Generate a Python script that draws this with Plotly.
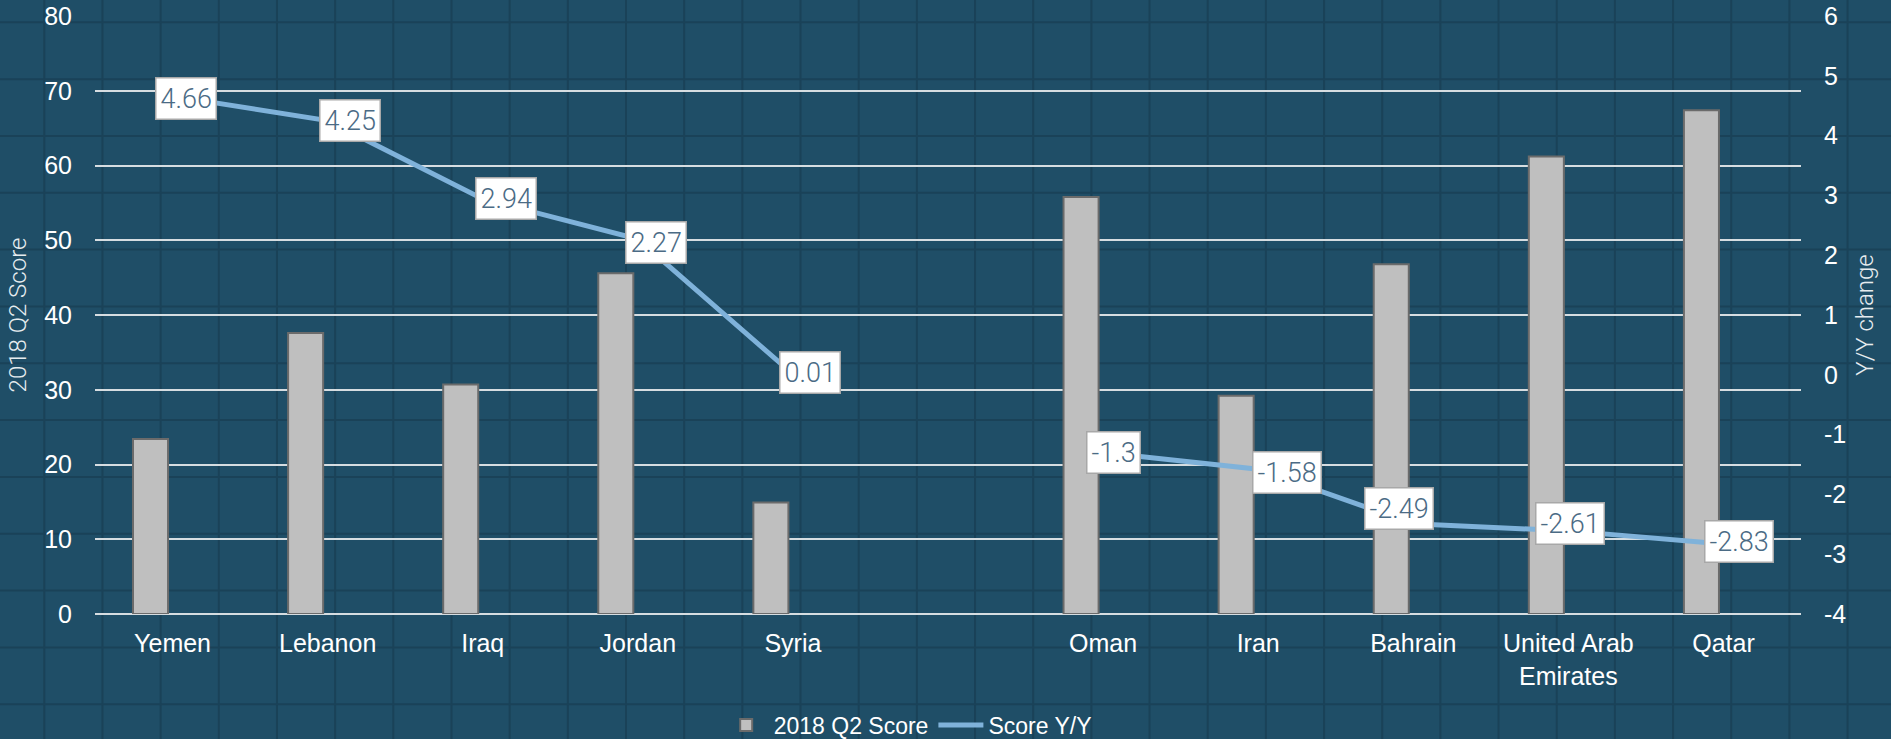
import plotly.graph_objects as go

categories = ["Yemen", "Lebanon", "Iraq", "Jordan", "Syria", " ",
              "Oman", "Iran", "Bahrain", "United Arab<br>Emirates", "Qatar"]
score_2018_q2 = [23.4, 37.6, 30.7, 45.6, 14.9, None, 55.8, 29.2, 46.8, 61.2, 67.4]
score_yy = [4.66, 4.25, 2.94, 2.27, 0.01, None, -1.3, -1.58, -2.49, -2.61, -2.83]
yy_labels = ["4.66", "4.25", "2.94", "2.27", "0.01", None, "-1.3", "-1.58", "-2.49", "-2.61", "-2.83"]
left_ticks = list(range(0, 81, 10))
right_ticks = list(range(-4, 7, 1))
right_tick_text = [str(v) for v in right_ticks]

# label nudges in pixels (style only)
label_dx = [13, 22, 23, 18, 17, 0, 10, 29, -14, 2, 16]
label_dy = [-2, 0, 0, -3, 2, 0, 0, -3, 15, 7, 3]

W, H = 1891, 739
ML, MR, MT, MB = 95, 90, 16, 125
PW, PH = W - ML - MR, H - MT - MB

BG = "#1f4e67"
TEX = "#1a4258"
TICK_FONT = dict(family="Liberation Sans, Arial", size=25, color="#ffffff")
TITLE_FONT = dict(family="Roboto", size=24, color="#e6ecef", weight=300)

fig = go.Figure()
fig.add_trace(go.Bar(
    x=categories, y=score_2018_q2, name="2018 Q2 Score",
    marker=dict(color="#bfbfbf", line=dict(color="#6b6b6b", width=2)),
    width=0.226, offset=-0.255, yaxis="y",
))
fig.add_trace(go.Scatter(
    x=categories, y=score_yy, name="Score Y/Y", mode="lines",
    line=dict(color="#7fb2da", width=5), connectgaps=False, yaxis="y2",
))

annotations = []
for c, v, t, dx, dy in zip(categories, score_yy, yy_labels, label_dx, label_dy):
    if v is None:
        continue
    annotations.append(dict(
        x=c, y=v, xref="x", yref="y2", text=t, showarrow=False,
        xshift=dx, yshift=dy,
        font=dict(family="Roboto", size=27, color="#4b6b85", weight=300),
        bgcolor="#ffffff", bordercolor="#a8a8a8", borderwidth=1.5, borderpad=4,
    ))

# background texture grid (decoration)
shapes = []
k = 0
while True:
    px = 44.3 + 58.17 * k
    if px > W:
        break
    xp = (px - ML) / PW
    shapes.append(dict(type="line", xref="paper", yref="paper", x0=xp, x1=xp,
                       y0=(MT + PH - H) / PH - 0.01, y1=(MT + PH) / PH + 0.01,
                       line=dict(color=TEX, width=2), layer="below"))
    k += 1
k = 0
while True:
    py = 22.3 + 56.83 * k
    if py > H:
        break
    yp = (MT + PH - py) / PH
    shapes.append(dict(type="line", xref="paper", yref="paper", y0=yp, y1=yp,
                       x0=-ML / PW - 0.01, x1=(W - ML) / PW + 0.01,
                       line=dict(color=TEX, width=2), layer="below"))
    k += 1

fig.update_layout(
    width=W, height=H,
    margin=dict(l=ML, r=MR, t=MT, b=MB, autoexpand=False),
    paper_bgcolor=BG, plot_bgcolor="rgba(0,0,0,0)",
    showlegend=True,
    legend=dict(orientation="h", x=0.48, xanchor="center", xref="container",
                y=0.019, yanchor="middle", yref="container",
                font=dict(family="Liberation Sans, Arial", size=23, color="#ffffff"),
                bgcolor="rgba(0,0,0,0)", itemwidth=45),
    xaxis=dict(type="category", categoryorder="array", categoryarray=categories,
               tickfont=TICK_FONT, showgrid=False, zeroline=False, showline=False,
               ticks="", ticklabelstandoff=12, automargin=False),
    yaxis=dict(range=[0, 80], tickvals=left_ticks, tickfont=TICK_FONT,
               showgrid=True, gridcolor="#d6dde1", gridwidth=2,
               zeroline=True, zerolinecolor="#d6dde1", zerolinewidth=2,
               showline=False, ticks="", ticklabelstandoff=22, automargin=False,
               title=dict(text="2018 Q2 Score", font=TITLE_FONT, standoff=10)),
    yaxis2=dict(range=[-4, 6], tickvals=right_ticks, ticktext=right_tick_text,
                tickfont=TICK_FONT, overlaying="y", side="right", showgrid=False,
                zeroline=False, showline=False, ticks="", ticklabelstandoff=22,
                automargin=False,
                title=dict(text="Y/Y change", font=TITLE_FONT, standoff=10)),
    annotations=annotations,
    shapes=shapes,
)

fig.write_html("out.html", config={"displayModeBar": False},
               post_script="document.body.style.margin='0';document.body.style.overflow='hidden';")
